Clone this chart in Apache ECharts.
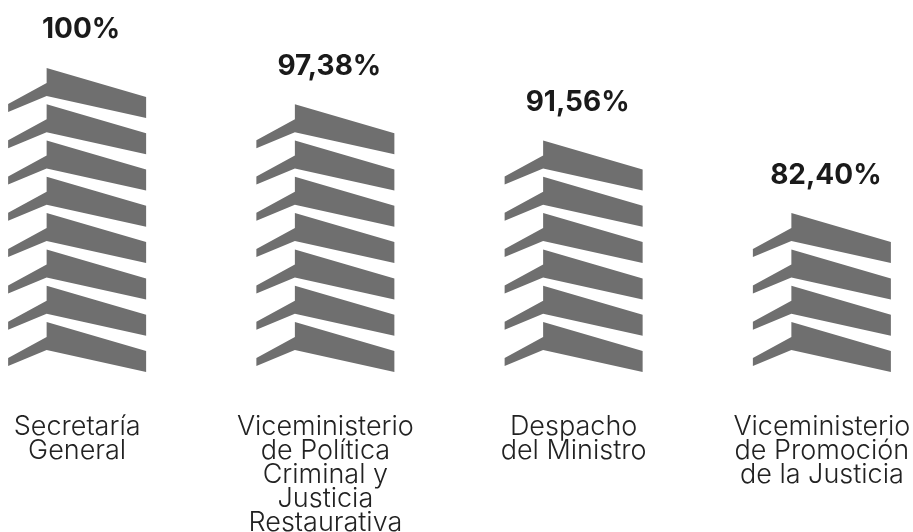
<!DOCTYPE html>
<html>
<head>
<meta charset="utf-8">
<style>
  html, body { margin: 0; padding: 0; background: #fff; }
  #main { width: 913px; height: 532px; }
</style>
<script src="https://cdn.jsdelivr.net/npm/echarts@6/dist/echarts.min.js"></script>
</head>
<body>
<div id="main"></div>
<script>
const categories = [
  'Secretaría\nGeneral',
  'Viceministerio\nde Política\nCriminal y\nJusticia\nRestaurativa',
  'Despacho\ndel Ministro',
  'Viceministerio\nde Promoción\nde la Justicia'
];
// stacked building floors drawn for each office
const floors = [8, 7, 6, 4];
const percentLabels = ['100%', '97,38%', '91,56%', '82,40%'];

const floorPath = 'path://M38.5,0 L138,29 L138,50 L38.5,28 L0,44 L0,36 L38.5,15 Z';
// repeat spacing is fitted to the grid: (gridHeight - 50) / 9 gives a 36.3px floor pitch
const gridHeight = 376.7;
const axisMax = gridHeight / 36.3;

const chart = echarts.init(document.getElementById('main'));
chart.setOption({
  animation: false,
  grid: { left: -47, right: -33, bottom: 160, height: gridHeight, outerBoundsMode: 'none' },
  xAxis: {
    type: 'category',
    data: categories,
    axisLine: { show: false },
    axisTick: { show: false },
    axisLabel: {
      margin: 43,
      interval: 0,
      fontFamily: 'Inter',
      fontWeight: 300,
      fontSize: 27,
      lineHeight: 24,
      color: '#222'
    }
  },
  yAxis: { type: 'value', min: 0, max: axisMax, show: false },
  series: [{
    type: 'pictorialBar',
    symbol: floorPath,
    symbolSize: [138, 50],
    symbolMargin: -6.85,
    symbolRepeat: true,
    symbolPosition: 'start',
    itemStyle: { color: '#6f6f6f' },
    label: {
      show: true,
      position: 'top',
      distance: 24,
      offset: [4, 0],
      formatter: p => percentLabels[p.dataIndex],
      fontFamily: 'Inter',
      fontWeight: 'bold',
      fontSize: 28,
      color: '#1a1a1a'
    },
    data: floors
  }]
});
</script>
</body>
</html>
